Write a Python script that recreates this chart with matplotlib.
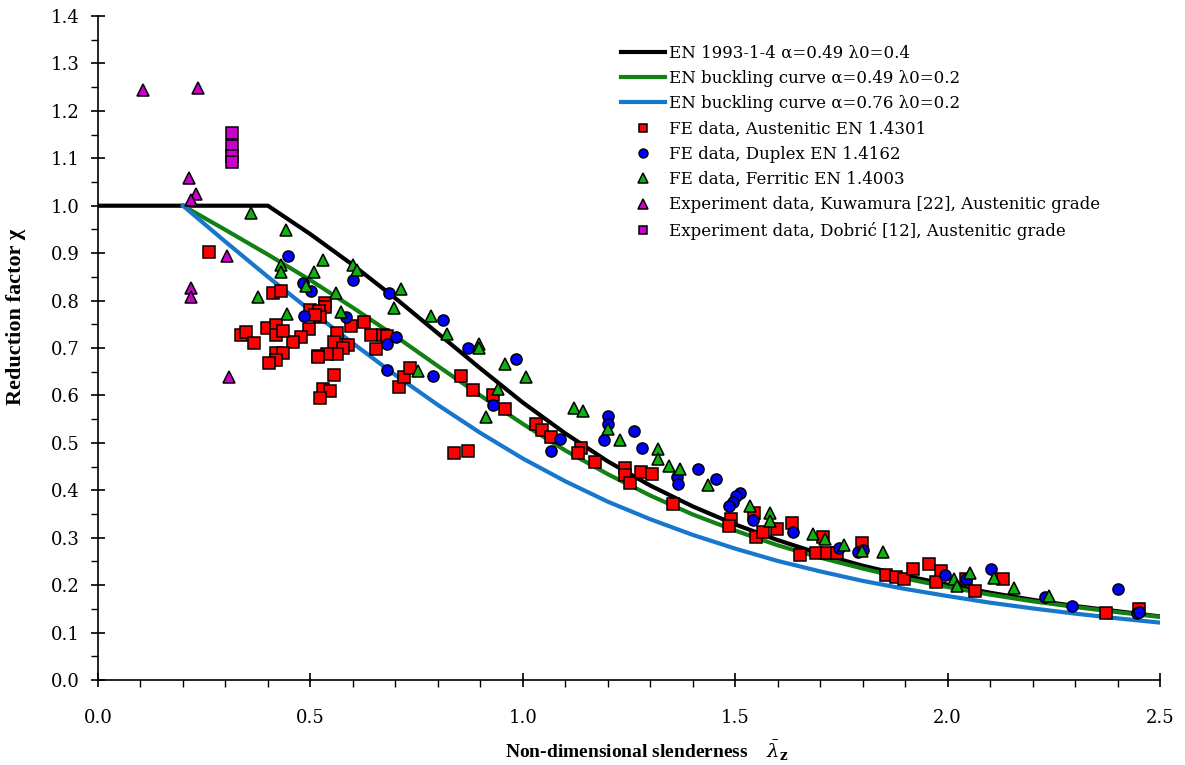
import matplotlib
matplotlib.use("Agg")
from matplotlib import pyplot as plt
from matplotlib.ticker import MultipleLocator, FormatStrFormatter

# slenderness grid for the design curves
lam_curve = [0.0, 0.1, 0.2, 0.3, 0.4, 0.5, 0.6, 0.7, 0.8, 0.9, 1.0, 1.1, 1.2, 1.3,
             1.4, 1.5, 1.6, 1.7, 1.8, 1.9, 2.0, 2.1, 2.2, 2.3, 2.4, 2.5]
# EN 1993-1-4, alpha=0.49, lambda0=0.4
chi_en14 = [1.0, 1.0, 1.0, 1.0, 1.0, 0.940, 0.875, 0.805, 0.731, 0.657, 0.585, 0.520,
            0.461, 0.410, 0.366, 0.328, 0.295, 0.266, 0.241, 0.220, 0.201, 0.184,
            0.169, 0.156, 0.145, 0.134]
# buckling curves start at lambda=0.2
lam_curve2 = lam_curve[2:]
chi_c = [1.0, 0.949, 0.897, 0.843, 0.785, 0.725, 0.662, 0.600, 0.540, 0.484, 0.434,
         0.389, 0.349, 0.315, 0.284, 0.258, 0.235, 0.214, 0.196, 0.180, 0.166, 0.154,
         0.143, 0.133]
chi_d = [1.0, 0.924, 0.850, 0.779, 0.710, 0.643, 0.580, 0.521, 0.467, 0.419, 0.376,
         0.339, 0.306, 0.277, 0.251, 0.229, 0.209, 0.192, 0.177, 0.163, 0.151, 0.140,
         0.130, 0.121]

# FE data, Austenitic EN 1.4301
aus_x = [0.261, 0.413, 0.430, 0.534, 0.534, 0.499, 0.521, 0.523, 0.511, 0.625, 0.596,
         0.642, 0.672, 0.680, 0.654, 0.562, 0.556, 0.589, 0.577, 0.562, 0.538, 0.519,
         0.519, 0.497, 0.477, 0.460, 0.399, 0.418, 0.418, 0.436, 0.337, 0.348, 0.368,
         0.418, 0.435, 0.418, 0.403, 0.556, 0.529, 0.546, 0.523, 0.709, 0.720, 0.734,
         0.855, 0.883, 0.929, 0.958, 0.838, 0.871, 1.032, 1.046, 1.066, 1.137, 1.131,
         1.170, 1.241, 1.241, 1.252, 1.278, 1.303, 1.353, 1.490, 1.486, 1.545, 1.549,
         1.566, 1.599, 1.633, 1.653, 1.690, 1.715, 1.740, 1.706, 1.798, 1.856, 1.878,
         1.898, 1.918, 1.957, 1.984, 1.973, 2.043, 2.064, 2.131, 2.372, 2.451]
aus_y = [0.902, 0.817, 0.821, 0.794, 0.786, 0.780, 0.779, 0.766, 0.770, 0.754, 0.746,
         0.727, 0.727, 0.725, 0.698, 0.731, 0.713, 0.706, 0.699, 0.687, 0.687, 0.683,
         0.680, 0.741, 0.724, 0.713, 0.743, 0.748, 0.727, 0.735, 0.727, 0.734, 0.710,
         0.689, 0.690, 0.675, 0.668, 0.643, 0.613, 0.609, 0.594, 0.617, 0.638, 0.657,
         0.642, 0.611, 0.601, 0.571, 0.479, 0.483, 0.539, 0.527, 0.513, 0.490, 0.479,
         0.460, 0.446, 0.432, 0.416, 0.438, 0.434, 0.371, 0.340, 0.325, 0.353, 0.301,
         0.313, 0.318, 0.330, 0.264, 0.267, 0.267, 0.267, 0.301, 0.288, 0.221, 0.218,
         0.214, 0.233, 0.245, 0.230, 0.207, 0.214, 0.188, 0.214, 0.141, 0.150]

# FE data, Duplex EN 1.4162
dup_x = [0.447, 0.483, 0.501, 0.600, 0.485, 0.584, 0.685, 0.701, 0.681, 0.680, 0.813,
         0.872, 0.983, 0.788, 0.931, 1.088, 1.066, 1.200, 1.200, 1.192, 1.262, 1.280,
         1.362, 1.366, 1.412, 1.454, 1.511, 1.503, 1.495, 1.486, 1.541, 1.637, 1.745,
         1.790, 1.802, 1.994, 2.043, 2.102, 2.229, 2.292, 2.400, 2.445, 2.451]
dup_y = [0.895, 0.838, 0.821, 0.843, 0.768, 0.765, 0.817, 0.724, 0.708, 0.654, 0.758,
         0.701, 0.676, 0.640, 0.579, 0.508, 0.483, 0.557, 0.539, 0.505, 0.524, 0.490,
         0.429, 0.413, 0.445, 0.423, 0.395, 0.387, 0.376, 0.367, 0.337, 0.311, 0.278,
         0.270, 0.274, 0.221, 0.212, 0.233, 0.174, 0.155, 0.192, 0.141, 0.144]

# FE data, Ferritic EN 1.4003
fer_x = [0.360, 0.443, 0.431, 0.431, 0.530, 0.509, 0.489, 0.600, 0.609, 0.560, 0.376,
         0.571, 0.444, 0.713, 0.697, 0.784, 0.822, 0.896, 0.896, 0.958, 1.008, 0.942,
         0.913, 0.754, 1.121, 1.142, 1.200, 1.229, 1.319, 1.319, 1.345, 1.370, 1.437,
         1.536, 1.582, 1.582, 1.682, 1.711, 1.757, 1.798, 1.849, 2.015, 2.023, 2.053,
         2.110, 2.156, 2.239]
fer_y = [0.985, 0.949, 0.875, 0.861, 0.886, 0.861, 0.831, 0.875, 0.864, 0.817, 0.808,
         0.775, 0.771, 0.824, 0.785, 0.767, 0.730, 0.708, 0.699, 0.666, 0.638, 0.614,
         0.555, 0.651, 0.574, 0.567, 0.529, 0.507, 0.488, 0.467, 0.451, 0.444, 0.411,
         0.367, 0.353, 0.336, 0.307, 0.298, 0.285, 0.273, 0.269, 0.213, 0.199, 0.226,
         0.216, 0.195, 0.178]

# Experiment data, Kuwamura [22]
kuw_x = [0.107, 0.235, 0.214, 0.231, 0.219, 0.304, 0.218, 0.218, 0.309]
kuw_y = [1.244, 1.248, 1.058, 1.025, 1.013, 0.895, 0.826, 0.808, 0.639]

# Experiment data, Dobrić [12]
dob_x = [0.315, 0.315, 0.315, 0.315]
dob_y = [1.153, 1.126, 1.105, 1.093]

plt.rcParams['font.family'] = ['DejaVu Serif']
plt.rcParams['mathtext.fontset'] = 'dejavuserif'

fig = plt.figure(figsize=(11.85, 7.65), dpi=100)
ax = fig.add_axes([98 / 1185, 1 - 680 / 765, 1062 / 1185, 664 / 765])

ax.plot(lam_curve, chi_en14, color='black', lw=3.0, label='EN 1993-1-4 α=0.49 λ0=0.4', zorder=2)
ax.plot(lam_curve2, chi_c, color='#138013', lw=3.0, label='EN buckling curve α=0.49 λ0=0.2', zorder=2)
ax.plot(lam_curve2, chi_d, color='#1777cc', lw=3.0, label='EN buckling curve α=0.76 λ0=0.2', zorder=2)

mk = dict(linestyle='none', markeredgecolor='black', markeredgewidth=1.1, zorder=3)
ax.plot(aus_x, aus_y, marker='s', ms=8, markerfacecolor='#ff0000',
        label='FE data, Austenitic EN 1.4301', **mk)
ax.plot(dup_x, dup_y, marker='o', ms=8, markerfacecolor='#0000ff',
        label='FE data, Duplex EN 1.4162', **mk)
ax.plot(fer_x, fer_y, marker='^', ms=8.5, markerfacecolor='#11b011',
        label='FE data, Ferritic EN 1.4003', **mk)
ax.plot(kuw_x, kuw_y, marker='^', ms=8.5, markerfacecolor='#cc00cc',
        label='Experiment data, Kuwamura [22], Austenitic grade', **mk)
ax.plot(dob_x, dob_y, marker='s', ms=8, markerfacecolor='#cc00cc',
        label='Experiment data, Dobrić [12], Austenitic grade', **mk)

ax.set_xlim(0, 2.5)
ax.set_ylim(0, 1.4)
ax.xaxis.set_major_locator(MultipleLocator(0.5))
ax.xaxis.set_minor_locator(MultipleLocator(0.1))
ax.yaxis.set_major_locator(MultipleLocator(0.1))
ax.yaxis.set_minor_locator(MultipleLocator(0.05))
ax.xaxis.set_major_formatter(FormatStrFormatter('%.1f'))
ax.yaxis.set_major_formatter(FormatStrFormatter('%.1f'))

for s in ['top', 'right']:
    ax.spines[s].set_visible(False)
for s in ['left', 'bottom']:
    ax.spines[s].set_linewidth(1.2)

ax.tick_params(which='major', direction='inout', length=10, width=1.2, labelsize=13)
ax.tick_params(which='minor', direction='out', length=5, width=1.0)
ax.tick_params(axis='x', which='major', pad=16)
ax.tick_params(axis='y', which='major', pad=8)

ax.set_ylabel('Reduction factor χ', fontsize=16, fontweight='bold',
              family='Liberation Serif')
ax.set_xlabel(r'Non-dimensional slenderness    $\bar{\lambda}_\mathbf{z}$', fontsize=14,
              fontweight='bold', family='Liberation Serif')
ax.yaxis.set_label_coords(-0.068, 0.547)
ax.xaxis.set_label_coords(0.517, -0.088)

ax.legend(loc='upper left', bbox_to_anchor=(613 / 1185, 1 - 36 / 765),
          bbox_transform=fig.transFigure, frameon=False, fontsize=12,
          handlelength=2.6, handletextpad=0.25, labelspacing=0.5, markerscale=0.8,
          borderpad=0)

plt.savefig('out.png', dpi=100)
